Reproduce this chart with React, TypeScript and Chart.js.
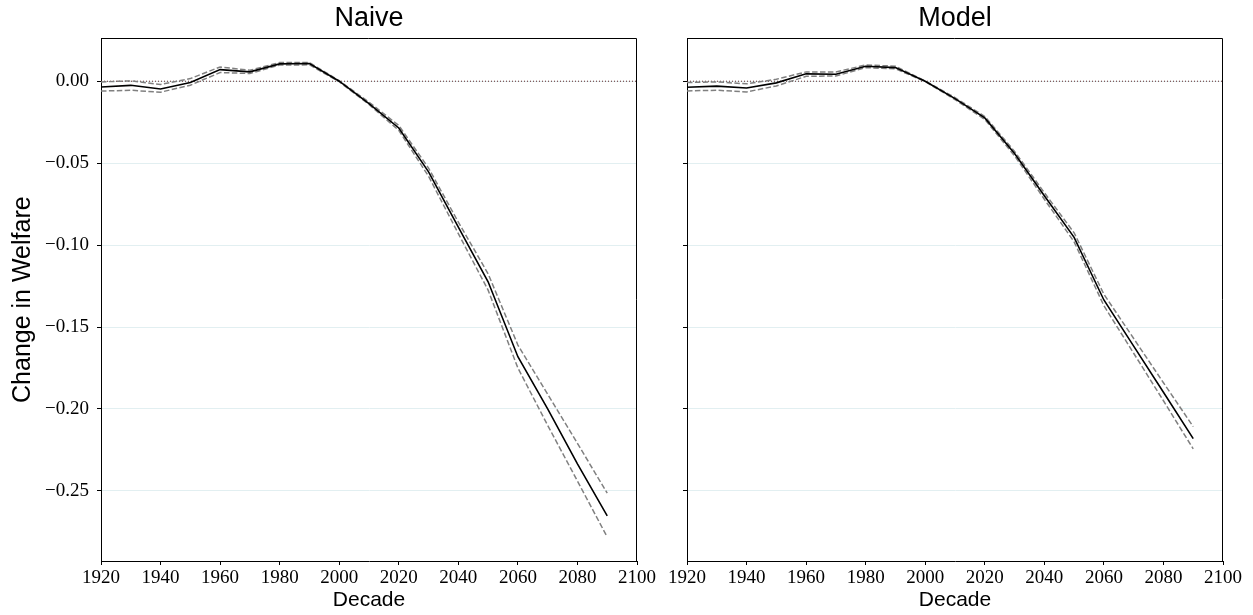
import React, { useEffect, useRef } from 'react';
import { Chart, registerables } from 'chart.js';

Chart.register(...registerables);

// ---- data ----
const DECADES = [1920, 1930, 1940, 1950, 1960, 1970, 1980, 1990, 2000, 2010, 2020, 2030, 2040, 2050, 2060, 2070, 2080, 2090];

const NAIVE_MEAN = [-0.0035, -0.0025, -0.0047, -0.0008, 0.0071, 0.0057, 0.0106, 0.0108, 0.0, -0.0136, -0.0285, -0.0553, -0.089, -0.1224, -0.1681, -0.2, -0.2335, -0.2652];
const NAIVE_UPPER = [-0.0004, 0.0002, -0.002, 0.0016, 0.0087, 0.0067, 0.0114, 0.0114, 0.0003, -0.0128, -0.027, -0.053, -0.086, -0.1175, -0.161, -0.191, -0.221, -0.2514];
const NAIVE_LOWER = [-0.006, -0.0055, -0.0067, -0.0024, 0.0053, 0.0047, 0.0099, 0.01, -0.0003, -0.0142, -0.03, -0.058, -0.093, -0.1275, -0.175, -0.21, -0.244, -0.2782];

const MODEL_MEAN = [-0.0037, -0.003, -0.0041, -0.001, 0.0045, 0.0043, 0.0091, 0.0083, 0.0, -0.0106, -0.0224, -0.0441, -0.0699, -0.0953, -0.1335, -0.1617, -0.1898, -0.2181];
const MODEL_UPPER = [-0.0008, -0.0004, -0.0016, 0.0012, 0.0057, 0.0057, 0.0099, 0.0092, 0.0002, -0.01, -0.0215, -0.0428, -0.068, -0.0925, -0.13, -0.157, -0.184, -0.2108];
const MODEL_LOWER = [-0.0059, -0.0055, -0.0065, -0.0029, 0.003, 0.0032, 0.0083, 0.0076, -0.0002, -0.0112, -0.0233, -0.0455, -0.072, -0.098, -0.137, -0.166, -0.195, -0.2244];

const X_TICKS = [1920, 1940, 1960, 1980, 2000, 2020, 2040, 2060, 2080, 2100];
const Y_TICKS = [-0.25, -0.2, -0.15, -0.1, -0.05, 0.0];
const ZERO_LINE_X = [1920, 2100];
const ZERO_LINE_Y = [0, 0];

const X_MIN = 1920;
const X_MAX = 2100;
const Y_MIN = -0.2928;
const Y_MAX = 0.0262;

const TITLES = ['Naive', 'Model'];

const toPts = (xs: number[], ys: number[]) => xs.map((x, i) => ({ x, y: ys[i] }));

const fmtY = (v: number) => {
  if (Math.abs(v) < 1e-9) return '0.00';
  return (v < 0 ? '\u2212' : '') + Math.abs(v).toFixed(2);
};

// draws the top and right spines (left/bottom come from the axes' borders)
const framePlugin = {
  id: 'frame',
  afterDatasetsDraw(chart: any) {
    const { ctx, chartArea: a } = chart;
    ctx.save();
    ctx.strokeStyle = '#000';
    ctx.lineWidth = 1;
    const l = Math.round(a.left);
    const t = Math.round(a.top) + 0.5;
    const r = Math.round(a.right) - 0.5;
    const b = Math.round(a.bottom);
    ctx.beginPath();
    ctx.moveTo(l, t);
    ctx.lineTo(r, t);
    ctx.lineTo(r, b);
    ctx.stroke();
    ctx.restore();
  },
};

type PanelProps = {
  title: string;
  mean: number[];
  upper: number[];
  lower: number[];
  showY: boolean;
  left: number;
  width: number;
  yAxisWidth: number;
  padRight: number;
};

function Panel(p: PanelProps) {
  const ref = useRef<HTMLCanvasElement | null>(null);
  useEffect(() => {
    if (!ref.current) return;
    const dashed = {
      borderColor: '#808080',
      borderWidth: 1.5,
      borderDash: [5.5, 2.4],
      pointRadius: 0,
      fill: false,
      tension: 0,
    };
    const chart = new Chart(ref.current, {
      type: 'line',
      data: {
        datasets: [
          { data: toPts(DECADES, p.mean), borderColor: '#000', borderWidth: 1.6, pointRadius: 0, fill: false, tension: 0 },
          { data: toPts(DECADES, p.upper), ...dashed },
          { data: toPts(DECADES, p.lower), ...dashed },
          {
            data: toPts(ZERO_LINE_X, ZERO_LINE_Y),
            borderColor: 'rgba(90,25,25,0.95)',
            borderWidth: 1,
            borderDash: [1, 2],
            pointRadius: 0,
            fill: false,
          },
        ],
      },
      options: {
        animation: false,
        responsive: false,
        devicePixelRatio: 1,
        layout: { padding: { left: 0, right: p.padRight, top: 0, bottom: 0 } },
        plugins: {
          legend: { display: false },
          tooltip: { enabled: false },
          title: {
            display: true,
            text: p.title,
            fullSize: false,
            color: '#000',
            font: { family: 'Liberation Sans, Arial, sans-serif', size: 27, weight: 'normal', lineHeight: 1.2 },
            padding: { top: 2, bottom: 3.9 },
          },
        },
        scales: {
          x: {
            type: 'linear',
            min: X_MIN,
            max: X_MAX,
            afterBuildTicks: (s: any) => {
              s.ticks = X_TICKS.map((v) => ({ value: v }));
            },
            afterFit: (s: any) => {
              s.height = 54;
            },
            grid: {
              display: true,
              drawOnChartArea: false,
              color: 'rgba(0,0,0,0)',
              tickColor: '#000',
              tickLength: 4,
              tickWidth: 1,
            },
            border: { display: true, color: '#000', width: 1 },
            ticks: {
              color: '#000',
              padding: 2,
              maxRotation: 0,
              autoSkip: false,
              font: { family: 'Liberation Serif, Times New Roman, serif', size: 19 },
              callback: (v: any) => String(v),
            },
            title: {
              display: true,
              text: 'Decade',
              color: '#000',
              font: { family: 'Liberation Sans, Arial, sans-serif', size: 21, lineHeight: 1.2 },
              padding: { top: 0, bottom: 2 },
            },
          },
          y: {
            type: 'linear',
            min: Y_MIN,
            max: Y_MAX,
            afterBuildTicks: (s: any) => {
              s.ticks = Y_TICKS.map((v) => ({ value: v }));
            },
            afterFit: (s: any) => {
              s.width = p.yAxisWidth;
            },
            grid: {
              display: true,
              color: '#e2eff1',
              lineWidth: 1,
              tickColor: '#000',
              tickLength: 4,
              tickWidth: 1,
            },
            border: { display: true, color: '#000', width: 1 },
            ticks: {
              color: '#000',
              padding: 8,
              font: { family: 'Liberation Serif, Times New Roman, serif', size: 19 },
              callback: (v: any) => (p.showY ? fmtY(Number(v)) : ''),
            },
            title: {
              display: p.showY,
              text: 'Change in Welfare',
              color: '#000',
              font: { family: 'Liberation Sans, Arial, sans-serif', size: 25, lineHeight: 1.2 },
              padding: { top: 8, bottom: 0 },
            },
          },
        },
      },
      plugins: [framePlugin],
    } as any);
    return () => chart.destroy();
  }, []);
  return (
    <canvas
      ref={ref}
      width={p.width}
      height={615}
      style={{ position: 'absolute', left: p.left, top: 0, width: p.width, height: 615 }}
    />
  );
}

export default function App() {
  return (
    <div style={{ position: 'fixed', left: 0, top: 0, width: 1253, height: 615, background: '#fff', overflow: 'hidden' }}>
      <Panel title={TITLES[0]} mean={NAIVE_MEAN} upper={NAIVE_UPPER} lower={NAIVE_LOWER} showY={true} left={0} width={660} yAxisWidth={101} padRight={23} />
      <Panel title={TITLES[1]} mean={MODEL_MEAN} upper={MODEL_UPPER} lower={MODEL_LOWER} showY={false} left={640} width={613} yAxisWidth={47} padRight={30} />
    </div>
  );
}
